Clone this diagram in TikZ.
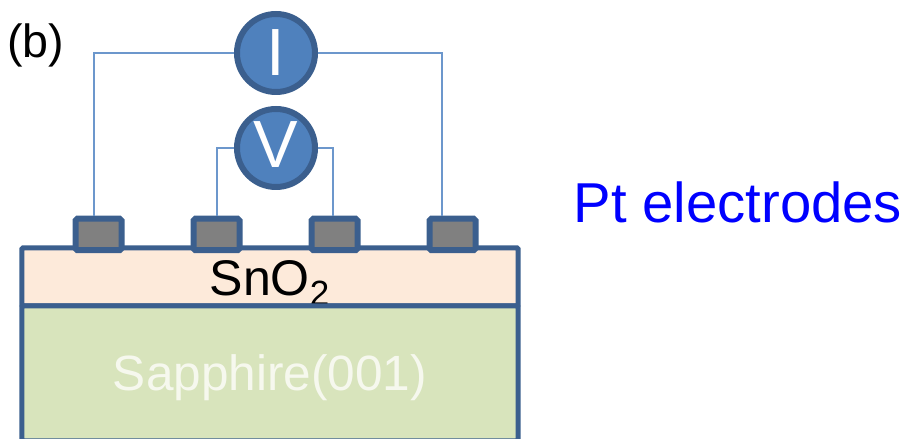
\documentclass[tikz,border=0pt]{standalone}
\usepackage{fontspec}
\setmainfont{Liberation Sans}
\definecolor{edgeblue}{HTML}{3B5F8E}
\definecolor{meterblue}{HTML}{4F81BD}
\definecolor{wireblue}{HTML}{6C97CC}
\definecolor{filmcolor}{HTML}{FDEADA}
\definecolor{subcolor}{HTML}{D8E4BC}
\definecolor{padgray}{HTML}{808080}
\definecolor{subtext}{HTML}{F6F8EE}

\begin{document}
\begin{tikzpicture}[line width=0.1cm,node distance=2.36cm]
\tikzstyle{layer}=[draw=edgeblue,rectangle,minimum width=9.92cm,inner sep=0pt,rounded corners=0.5pt,text depth=0pt]
\tikzstyle{pad}=[draw=edgeblue,line width=0.12cm,fill=padgray,rectangle,minimum width=0.92cm,minimum height=0.63cm,inner sep=0pt,rounded corners=1pt]
\tikzstyle{meter}=[draw=edgeblue,line width=0.12cm,fill=meterblue,circle,minimum size=1.56cm,inner sep=0pt,text=white,font=\fontsize{38}{40}\selectfont]
\tikzstyle{wire}=[draw=wireblue,line width=0.04cm]
\useasboundingbox (0,0) rectangle (18.12,8.78);

\node [layer,fill=filmcolor,minimum height=1.16cm,text height=0.76cm,font=\fontsize{28.5}{30}\selectfont] (film) at (5.40,3.24) {SnO\textsubscript{2}\hspace{0.04cm}};
\node [layer,fill=subcolor,minimum height=2.70cm,below of=film,node distance=1.93cm,text height=0.70cm,text=subtext,font=\fontsize{28.2}{30}\selectfont] (sapphire) {Sapphire(001)\hspace{0.06cm}};

\node [pad] (pad1) at (1.97,4.09) {};
\node [pad] [right of=pad1] (pad2) {};
\node [pad] [right of=pad2] (pad3) {};
\node [pad] [right of=pad3] (pad4) {};

\node [meter] (I) at (5.52,7.72) {I};
\node [meter] [below of=I,node distance=1.90cm,text height=0.8cm,text depth=0pt] (V) {V};

\path[wire]
      (I.west) -| ([xshift=-0.09cm]pad1.north)
      (I.east) -| ([xshift=-0.21cm]pad4.north)
      (V.west) -| (pad2.north)
      (V.east) -| ([xshift=-0.04cm]pad3.north);

\node [font=\fontsize{26.5}{28}\selectfont] (label) at (0.71,7.87) {(b)};
\node [text=blue,font=\fontsize{32}{36}\selectfont] (ptlabel) at (14.76,4.74) {Pt electrodes};
\end{tikzpicture}
\end{document}
